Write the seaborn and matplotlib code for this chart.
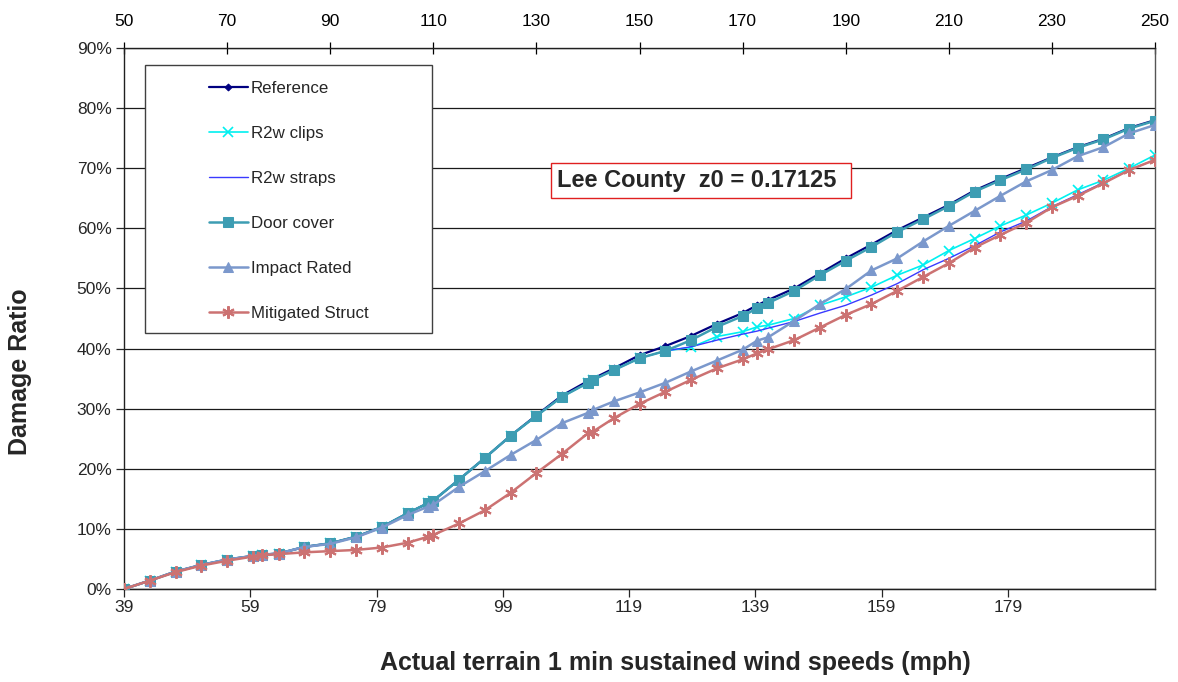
import numpy as np
import pandas as pd
import matplotlib
matplotlib.use("Agg")
import matplotlib.pyplot as plt
import seaborn as sns
from matplotlib.patches import Rectangle
from matplotlib.ticker import FuncFormatter

# ---- data (x = gust-speed scale shown on the top axis) ----
gust_speeds = [50, 55, 60, 65, 70, 75, 76.8, 80, 85, 90,
               95, 100, 105, 109, 110, 115, 120, 125, 130, 135,
               140, 141, 145, 150, 155, 160, 165, 170, 172.8, 175,
               180, 185, 190, 195, 200, 205, 210, 215, 220, 225,
               230, 235, 240, 245, 250]

reference = [0, 1.4, 2.9, 4.0, 4.9, 5.5, 5.7, 5.9, 7.0, 7.6,
             8.7, 10.3, 12.6, 14.3, 14.7, 18.2, 21.8, 25.5, 28.9, 32.2,
             34.6, 35.0, 36.7, 38.9, 40.4, 42.1, 44.1, 45.9, 47.2, 48.1,
             50.0, 52.5, 55.0, 57.3, 59.7, 61.8, 63.9, 66.3, 68.2, 70.0,
             71.8, 73.5, 74.9, 76.7, 78.0]

r2w_clips = [0, 1.4, 2.9, 4.0, 4.9, 5.5, 5.7, 5.9, 7.0, 7.6,
             8.7, 10.3, 12.6, 14.3, 14.7, 18.2, 21.8, 25.5, 28.8, 32.0,
             34.3, 34.8, 36.4, 38.4, 39.6, 40.2, 42.0, 42.8, 43.6, 43.9,
             45.0, 47.2, 48.6, 50.2, 52.2, 53.9, 56.3, 58.3, 60.4, 62.2,
             64.2, 66.4, 68.0, 70.0, 72.2]

r2w_straps = [0, 1.4, 2.9, 4.0, 4.9, 5.5, 5.7, 5.9, 7.0, 7.6,
              8.7, 10.3, 12.6, 14.3, 14.7, 18.2, 21.8, 25.5, 28.8, 32.0,
              34.3, 34.8, 36.4, 38.4, 39.6, 40.3, 41.4, 42.4, 42.9, 43.4,
              44.5, 45.9, 47.2, 48.9, 50.8, 53.1, 55.0, 57.1, 59.4, 61.2,
              63.6, 65.6, 67.6, 69.7, 71.4]

door_cover = [0, 1.4, 2.9, 4.0, 4.9, 5.5, 5.7, 5.9, 7.0, 7.6,
              8.7, 10.3, 12.6, 14.3, 14.7, 18.2, 21.8, 25.5, 28.8, 32.0,
              34.3, 34.8, 36.4, 38.4, 39.6, 41.4, 43.6, 45.4, 46.7, 47.6,
              49.6, 52.2, 54.6, 56.9, 59.4, 61.5, 63.7, 66.1, 68.0, 69.8,
              71.7, 73.4, 74.8, 76.6, 77.9]

impact_rated = [0, 1.4, 2.9, 4.0, 4.9, 5.5, 5.7, 5.9, 7.0, 7.5,
                8.6, 10.2, 12.3, 13.7, 14.0, 17.0, 19.6, 22.3, 24.8, 27.6,
                29.3, 29.8, 31.2, 32.7, 34.3, 36.2, 38.0, 39.8, 41.3, 41.9,
                44.6, 47.4, 49.9, 53.0, 55.0, 57.8, 60.4, 62.9, 65.4, 67.8,
                69.7, 72.0, 73.5, 75.8, 77.2]

mitigated_struct = [0, 1.4, 2.8, 3.9, 4.7, 5.4, 5.6, 5.8, 6.1, 6.3,
                    6.5, 6.9, 7.7, 8.7, 9.0, 10.9, 13.1, 16.0, 19.3, 22.5,
                    25.9, 26.2, 28.4, 30.8, 32.8, 34.8, 36.7, 38.2, 39.2, 39.9,
                    41.4, 43.5, 45.6, 47.4, 49.6, 51.9, 54.2, 56.8, 58.9, 60.9,
                    63.5, 65.4, 67.5, 69.7, 71.4]

series_names = ["Reference", "R2w clips", "R2w straps", "Door cover",
                "Impact Rated", "Mitigated Struct"]

top_ticks = [50, 70, 90, 110, 130, 150, 170, 190, 210, 230, 250]
bottom_ticks = [39, 59, 79, 99, 119, 139, 159, 179]
y_ticks = [0, 10, 20, 30, 40, 50, 60, 70, 80, 90]

# relation between the two speed scales (top 50 <-> bottom 39)
SUST_AT_GUST50 = 39.0
SUST_PER_GUST = 0.8165

annotation = "Lee County  z0 = 0.17125"
x_label = "Actual terrain 1 min sustained wind speeds (mph)"
y_label = "Damage Ratio"

# ---- build long table ----
values = [reference, r2w_clips, r2w_straps, door_cover, impact_rated, mitigated_struct]
df = pd.concat([pd.DataFrame({"gust": gust_speeds, "ratio": v, "series": n})
                for n, v in zip(series_names, values)], ignore_index=True)

styles = {
    "Reference":        dict(color="#000080", marker="D", markersize=3.5, linewidth=1.6),
    "R2w clips":        dict(color="#00f0f0", marker="x", markersize=7, linewidth=1.2, markeredgewidth=1.2),
    "R2w straps":       dict(color="#3a3aff", marker=None, linewidth=1.0),
    "Door cover":       dict(color="#3d9db3", marker="s", markersize=6.5, linewidth=1.8),
    "Impact Rated":     dict(color="#7b98cc", marker="^", markersize=7.5, linewidth=1.8),
    "Mitigated Struct": dict(color="#cc7272", marker=(6, 2, 0), markersize=9, linewidth=1.8, markeredgewidth=1.5),
}

sns.set_style("white")
plt.rcParams['font.family'] = ['Liberation Sans', 'DejaVu Sans']

fig = plt.figure(figsize=(11.78, 6.82), dpi=100)
ax = fig.add_axes([124 / 1178, 1 - 589 / 682, 1031 / 1178, 541 / 682])

for name in series_names:
    sub = df[df["series"] == name]
    st = dict(styles[name])
    kw = dict(markeredgecolor=st["color"]) if st.get("marker") else {}
    sns.lineplot(data=sub, x="gust", y="ratio", ax=ax, label=name,
                 estimator=None, sort=False, zorder=3, **kw, **st)

ax.set_xlim(50, 250)
ax.set_ylim(0, 90)
ax.set_xlabel("")
ax.set_ylabel(y_label, fontsize=18, fontweight="bold")
ax.yaxis.set_label_coords((32 - 124) / 1031, (589 - 372) / 541)

# top axis
ax.set_xticks(top_ticks)
ax.xaxis.tick_top()
ax.tick_params(axis="x", direction="inout", length=9, width=0.9, labelsize=12.5,
               top=True, bottom=False, labeltop=True, labelbottom=False, pad=9, colors="black")
# y axis
ax.set_yticks(y_ticks)
ax.yaxis.set_major_formatter(FuncFormatter(lambda v, p: f"{v:.0f}%"))
ax.tick_params(axis="y", direction="out", length=6, width=0.9, labelsize=12.5, left=True, pad=3)
ax.grid(axis="y", color="#1a1a1a", linewidth=0.9)
ax.grid(axis="x", visible=False)
ax.set_axisbelow(True)

for side in ["left", "bottom", "top"]:
    ax.spines[side].set_color("#202020")
    ax.spines[side].set_linewidth(1.0)
ax.spines["right"].set_color("#555555")
ax.spines["right"].set_linewidth(1.0)

# bottom axis (sustained speeds)
def to_sust(x):
    return SUST_AT_GUST50 + (np.asarray(x, dtype=float) - 50) * SUST_PER_GUST

def to_gust(s):
    return 50 + (np.asarray(s, dtype=float) - SUST_AT_GUST50) / SUST_PER_GUST

sec = ax.secondary_xaxis("bottom", functions=(to_sust, to_gust))
sec.set_xticks(bottom_ticks)
sec.tick_params(direction="out", length=6, width=0.9, labelsize=12.5, pad=2)
sec.spines["bottom"].set_color("#202020")
fig.text(675 / 1178, 1 - 663 / 682, x_label, fontsize=18, fontweight="bold",
         ha="center", va="center")

# legend box
ax.add_patch(Rectangle((21 / 1031, (589 - 333) / 541), (432 - 145) / 1031, (333 - 65) / 541,
                       transform=ax.transAxes, facecolor="white", edgecolor="#404040",
                       linewidth=1.0, zorder=4))
handles, labels = ax.get_legend_handles_labels()
leg = ax.legend(handles, labels, loc="upper left", bbox_to_anchor=(85 / 1031, (589 - 81) / 541),
                frameon=False, fontsize=12.2, borderpad=0, borderaxespad=0,
                handlelength=2.3, handletextpad=0.15, labelspacing=1.77, numpoints=1)
leg.set_zorder(6)

# annotation box
ax.add_patch(Rectangle(((551 - 124) / 1031, (589 - 198) / 541), 300 / 1031, 35 / 541,
                       transform=ax.transAxes, facecolor="white", edgecolor="#e02020",
                       linewidth=1.0, zorder=4))
ax.text((557 - 124) / 1031, (589 - 181) / 541, annotation, transform=ax.transAxes,
        fontsize=17, fontweight="bold", va="center", ha="left", zorder=7)

fig.savefig("out.png", dpi=100)
